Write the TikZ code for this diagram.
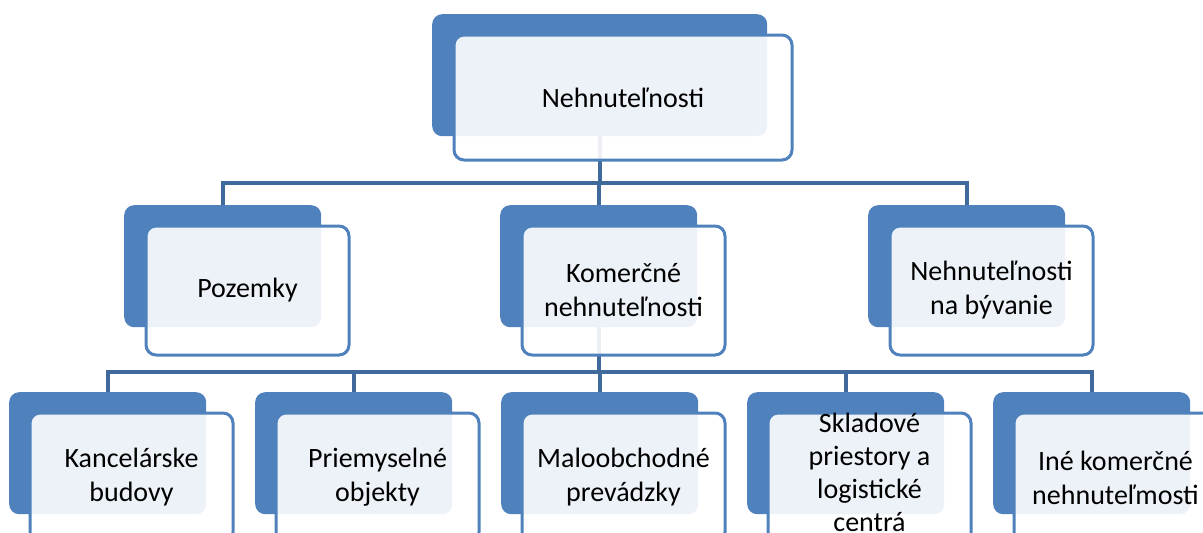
\documentclass[tikz,border=0pt]{standalone}
\usepackage{fontspec}
\setmainfont{Carlito}
\definecolor{boxblue}{HTML}{4F81BD}
\definecolor{linkblue}{HTML}{3F6A9B}
\tikzset{
  x=1pt, y=-1pt,
  backbox/.style={draw=none, fill=boxblue, rounded corners=10pt, inner sep=0pt, anchor=north west},
  frontbox/.style={draw=boxblue, line width=3pt, fill=white, fill opacity=0.9, text opacity=1,
    rounded corners=10pt, inner sep=0pt, anchor=north west, align=center,
    font=\fontsize{28}{34}\selectfont},
  conn/.style={draw=linkblue, line width=4pt},
}
\begin{document}
\begin{tikzpicture}
\useasboundingbox (0,0) rectangle (1203,533);
% back rectangles
\node[backbox, minimum width=335pt, minimum height=122pt] (top) at (432,14) {};
\node[backbox, minimum width=197pt, minimum height=122pt] (poz) at (124,205) {};
\node[backbox, minimum width=197pt, minimum height=122pt] (kom) at (500,205) {};
\node[backbox, minimum width=197pt, minimum height=122pt] (byv) at (868,205) {};
\node[backbox, minimum width=197pt, minimum height=122pt] (kan) at (9,392) {};
\node[backbox, minimum width=197pt, minimum height=122pt] (pri) at (255,392) {};
\node[backbox, minimum width=197pt, minimum height=122pt] (mal) at (501,392) {};
\node[backbox, minimum width=197pt, minimum height=122pt] (skl) at (747,392) {};
\node[backbox, minimum width=197pt, minimum height=122pt] (ine) at (993,392) {};
% connectors
\coordinate (bar1) at (0,183);
\coordinate (bar2) at (0,372);
\draw[conn] (top.south) -- (top.south |- bar1);
\draw[conn] (poz.north) |- (byv.north |- bar1) -- (byv.north);
\draw[conn] (kom.north) -- (kom.north |- bar1);
\draw[conn] (kom.south) -- (kom.south |- bar2);
\draw[conn] (kan.north) |- (ine.north |- bar2) -- (ine.north);
\draw[conn] (pri.north) -- (pri.north |- bar2);
\draw[conn] (mal.north) -- (mal.north |- bar2);
\draw[conn] (skl.north) -- (skl.north |- bar2);
% front boxes
\node[frontbox, minimum width=338pt, minimum height=125pt] (topf) at (452.5,33.5) {Nehnuteľnosti};
\node[frontbox, minimum width=203pt, minimum height=129pt] (pozf) at (144.5,224.5) {Pozemky};
\node[frontbox, minimum width=203pt, minimum height=129pt] (komf) at (520.5,224.5) {Komerčné\\nehnuteľnosti};
\node[frontbox, minimum width=203pt, minimum height=129pt] (byvf) at (888.5,224.5) {Nehnuteľnosti\\na bývanie};
\node[frontbox, minimum width=203pt, minimum height=129pt] (kanf) at (28.5,411.5) {Kancelárske\\budovy};
\node[frontbox, minimum width=203pt, minimum height=129pt] (prif) at (274.5,411.5) {Priemyselné\\objekty};
\node[frontbox, minimum width=203pt, minimum height=129pt] (malf) at (520.5,411.5) {Maloobchodné\\prevádzky};
\node[frontbox, minimum width=203pt, minimum height=129pt, font=\fontsize{28}{33}\selectfont, text depth=14pt] (sklf) at (766.5,411.5) {Skladové\\priestory a\\logistické\\centrá};
\node[frontbox, minimum width=203pt, minimum height=129pt] (inef) at (1012.5,411.5) {Iné komerčné\\nehnuteľmosti};
\end{tikzpicture}
\end{document}
